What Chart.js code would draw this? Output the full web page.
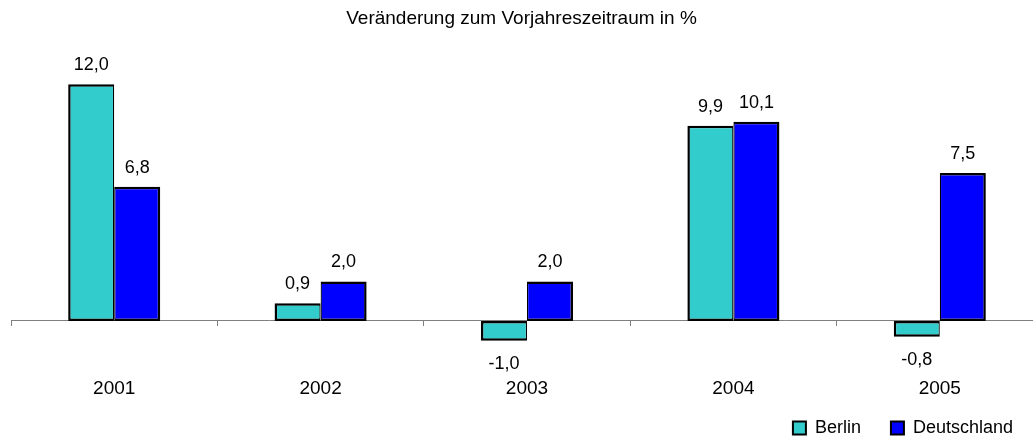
<!DOCTYPE html>
<html lang="de">
<head>
<meta charset="utf-8">
<title>Veränderung zum Vorjahreszeitraum</title>
<script src="https://cdn.jsdelivr.net/npm/chart.js@4/dist/chart.umd.min.js"></script>
<style>
  html, body { margin: 0; padding: 0; background: #fff; overflow: hidden; }
  #chart { display: block; }
</style>
</head>
<body>
<canvas id="chart" width="1043" height="447"></canvas>
<script>
// Daten
const years       = ['2001', '2002', '2003', '2004', '2005'];
const berlin      = [12.0, 0.9, -1.0, 9.9, -0.8];
const deutschland = [6.8, 2.0, 2.0, 10.1, 7.5];

const fmt = v => v.toFixed(1).replace('.', ',');

Chart.defaults.font.family = "'Liberation Sans', Arial, sans-serif";
Chart.defaults.font.size = 19;
Chart.defaults.color = '#000';

/* ── Werte über / unter den Säulen ─────────────────────── */
const valueLabels = {
  id: 'valueLabels',
  afterDatasetsDraw(chart) {
    const ctx = chart.ctx;
    ctx.save();
    ctx.font = "18px 'Liberation Sans', Arial, sans-serif";
    ctx.fillStyle = '#000';
    ctx.textAlign = 'center';
    ctx.textBaseline = 'middle';
    chart.data.datasets.forEach((ds, i) => {
      chart.getDatasetMeta(i).data.forEach((bar, j) => {
        const v = ds.data[j];
        const y = v >= 0 ? bar.y - 19 : bar.y + 23;
        ctx.fillText(fmt(v), bar.x, y);
      });
    });
    ctx.restore();
  }
};

new Chart(document.getElementById('chart'), {
  type: 'bar',
  data: {
    labels: years,
    datasets: [{
      label: 'Berlin',
      data: berlin,
      backgroundColor: '#33CCCC',
      borderColor: '#000',
      borderWidth: { top: 2.5, left: 2.5, bottom: 2.5, right: 1.25 },
      borderSkipped: false
    }, {
      label: 'Deutschland',
      data: deutschland,
      backgroundColor: '#0000FF',
      borderColor: '#000',
      borderWidth: { top: 2.5, left: 1.25, bottom: 2.5, right: 2.5 },
      borderSkipped: false
    }]
  },
  options: {
    responsive: false,
    animation: false,
    layout: { padding: 0 },
    categoryPercentage: 0.446,
    barPercentage: 1,
    plugins: {
      title: {
        display: true,
        text: 'Veränderung zum Vorjahreszeitraum in %',
        font: { size: 19, weight: 'normal' },
        padding: { top: 7, bottom: 15 }
      },
      legend: {
        position: 'bottom',
        align: 'end',
        labels: {
          boxWidth: 13,
          boxHeight: 13,
          padding: 30,
          font: { size: 18 },
          generateLabels(chart) {
            return Chart.defaults.plugins.legend.labels.generateLabels(chart)
              .map(l => Object.assign(l, { lineWidth: 2, strokeStyle: '#000' }));
          }
        }
      },
      tooltip: { enabled: false }
    },
    scales: {
      x: {
        position: { y: 0 },
        grid: { offset: true, drawOnChartArea: false, tickLength: 5, color: '#808080' },
        border: { color: '#808080' },
        ticks: { padding: 51 }
      },
      y: {
        min: -3.45,
        max: 14,
        grid: { display: false },
        border: { display: false },
        ticks: { display: false },
        afterFit(scale) { scale.width = 11; }
      }
    }
  },
  plugins: [valueLabels]
});
</script>
</body>
</html>
